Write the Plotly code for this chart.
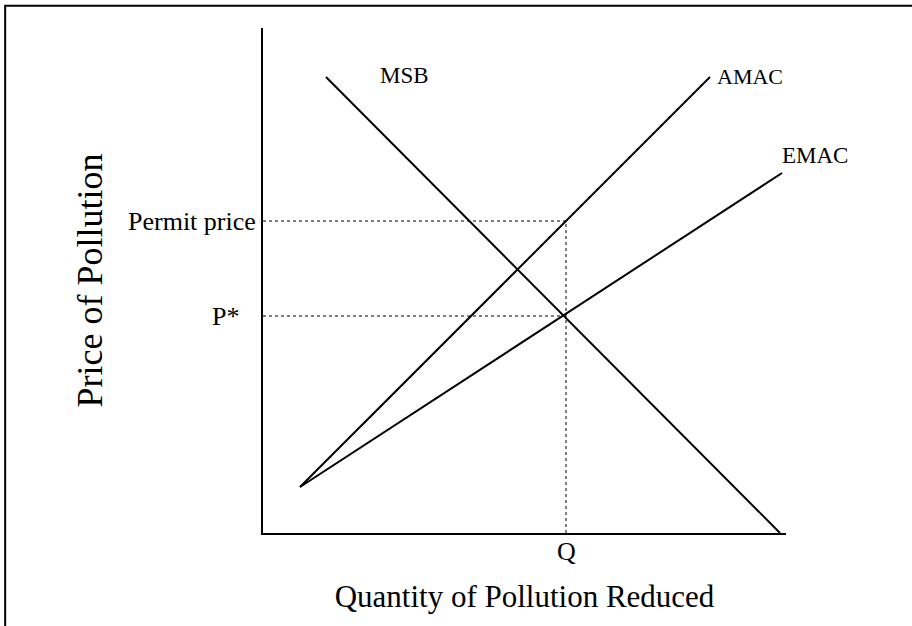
import plotly.graph_objs as go

# curve end points (quantity, price)
msbX = [63, 517]
msbY = [456, 0]
amacX = [37, 447]
amacY = [46, 456]
emacX = [37, 519]
emacY = [46, 360]

q = 303
pStar = 217
permitPrice = 312

curveNames = ["MSB", "AMAC", "EMAC"]

font = "Liberation Serif, Times New Roman, serif"

traces = []
for xs, ys in [(msbX, msbY), (amacX, amacY), (emacX, emacY)]:
    traces.append(go.Scatter(x = xs, y = ys, mode = "lines",
                             line = dict(color = "black", width = 2),
                             hoverinfo = "skip", showlegend = False))

# dotted guide lines
dots = dict(color = "black", width = 1, dash = "dot")
traces.append(go.Scatter(x = [0, q, q], y = [permitPrice, permitPrice, 0], mode = "lines",
                         line = dots, hoverinfo = "skip", showlegend = False))
traces.append(go.Scatter(x = [0, q], y = [pStar, pStar], mode = "lines",
                         line = dots, hoverinfo = "skip", showlegend = False))

labelFont = dict(family = font, size = 23, color = "black")
bigFont = dict(family = font, size = 26, color = "black")
annotations = [
    dict(x = msbX[0] + 52, y = msbY[0] + 2, text = curveNames[0], xanchor = "left"),
    dict(x = amacX[1] + 5, y = amacY[1] + 1, text = curveNames[1], xanchor = "left",
         font = dict(family = font, size = 22, color = "black")),
    dict(x = emacX[1] - 2, y = emacY[1] + 18, text = curveNames[2], xanchor = "left"),
    dict(x = 0, y = permitPrice, text = "Permit price", xanchor = "right", xshift = -5,
         font = bigFont),
    dict(x = 0, y = pStar, text = "P*", xanchor = "right", xshift = -22, font = bigFont),
    dict(x = q, y = 0, text = "Q", yanchor = "top", yshift = -2, font = bigFont),
]
for a in annotations:
    a.update(xref = "x", yref = "y", showarrow = False)
    a.setdefault("font", labelFont)

layout = go.Layout(
    width = 912, height = 626,
    margin = dict(l = 263, r = 126, t = 28, b = 93),
    paper_bgcolor = "white", plot_bgcolor = "white",
    xaxis = dict(range = [0, 523], showline = True, linecolor = "black", linewidth = 2,
                 showgrid = False, zeroline = False, showticklabels = False, ticks = "",
                 title = dict(text = "Quantity of Pollution Reduced", standoff = 51,
                              font = dict(family = font, size = 31, color = "black"))),
    yaxis = dict(range = [0, 505], showline = True, linecolor = "black", linewidth = 2,
                 showgrid = False, zeroline = False, showticklabels = False, ticks = "",
                 title = dict(text = "Price of Pollution", standoff = 147,
                              font = dict(family = font, size = 36, color = "black"))),
    annotations = annotations,
    shapes = [dict(type = "rect", xref = "paper", yref = "paper",
                   x0 = -0.493, x1 = 1.5, y0 = -0.5, y1 = 1.044,
                   line = dict(color = "black", width = 2))],
)

fig = go.Figure(data = traces, layout = layout)
fig.write_html("out.html", config = {"displayModeBar": False},
               post_script = "document.body.style.margin = '0px';")
